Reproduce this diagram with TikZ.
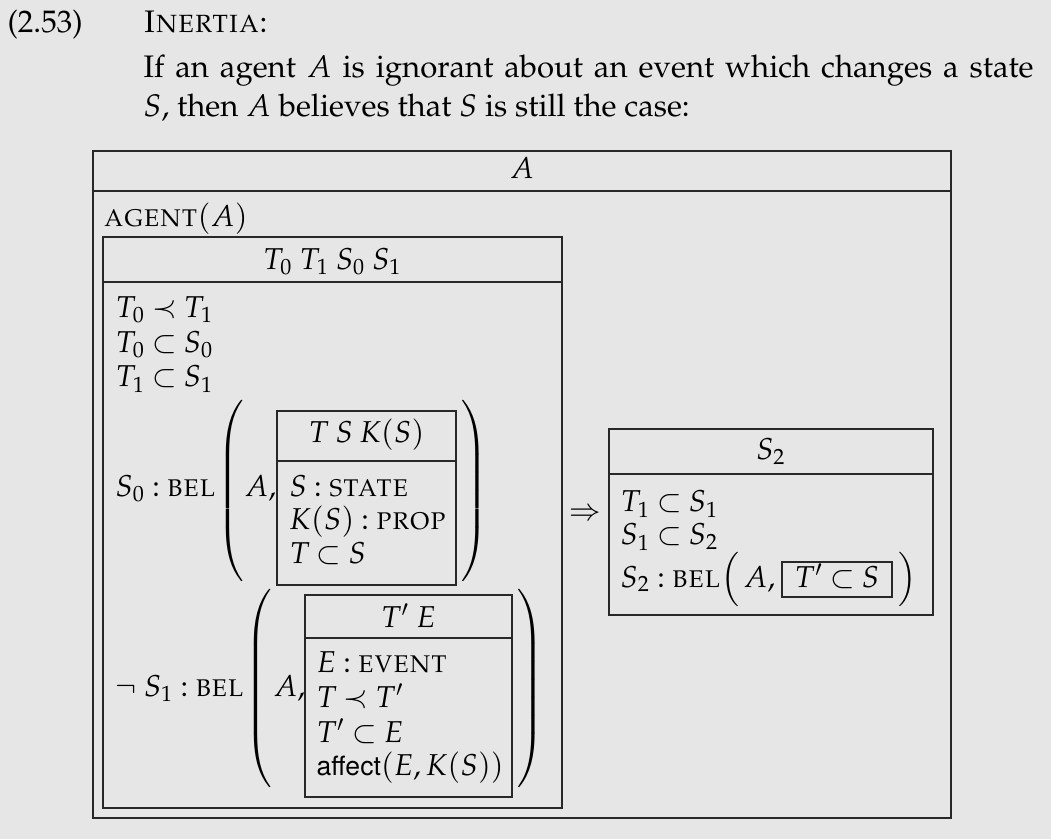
\documentclass[tikz,border=0pt,11pt]{standalone}
\usepackage{fontspec}
\newfontfamily\affectfont{TeX Gyre Heros}[Scale=0.88]
\usepackage[T1]{fontenc}
\usepackage{mathpazo}
\thickmuskip=4mu plus 2mu
\definecolor{bgc}{RGB}{230,230,230}
\definecolor{linec}{RGB}{40,40,40}
\newcommand\parL[1]{$\left(\vcenter{\hrule height #1 width 0pt}\right.$}
\newcommand\parR[1]{$\left.\vcenter{\hrule height #1 width 0pt}\right)$}
\newcommand\gap{\mskip 4mu}
\tikzset{
  box/.style={draw=linec, line width=0.45pt},
  txt/.style={inner sep=0pt, anchor=base west},
  hd/.style={inner sep=0pt, anchor=base},
  delim/.style={inner sep=0pt, anchor=center},
  headtxt/.style={txt, font=\fontsize{11.3}{13.6}\selectfont},
}
\begin{document}
\begin{tikzpicture}[x=0.363pt, y=-0.363pt]
\useasboundingbox (0,0) rectangle (1051,839);
\fill[bgc] (0,0) rectangle (1051,839);
% heading
\node[headtxt] (num) at (7,33) {(2.53)};
\node[headtxt] (ttl) at (143,33) {\textsc{Inertia}:};
\node[headtxt] (l1) at (143,78) {\hbox to 323.1pt{If an agent $A$ is ignorant about an event which changes a state}};
\node[headtxt] (l2) at (143,117) {$S$, then $A$ believes that $S$ is still the case:};
% outer box
\draw[box] (93,151) rectangle (951,818);
\draw[box] (93,191) -- (951,191);
\node[hd] (hA) at (522,179) {$A$};
\node[txt] (agent) at (103,227) {\textsc{agent}$(A)$};
% inner box
\draw[box] (103,237) rectangle (562,808);
\draw[box] (103,282) -- (562,282);
\node[hd] (hT) at (332.5,270) {$T_0\gap T_1\gap S_0\gap S_1$};
\node[txt] (c1) at (115,318) {$T_0 \prec T_1$};
\node[txt] (c2) at (115,353) {$T_0 \subset S_0$};
\node[txt] (c3) at (115,387) {$T_1 \subset S_1$};
% first belief
\node[txt] (b1) at (115,497) {$S_0 : \textsc{bel}$};
\node[delim] (p1l) at (232.5,491) {\parL{70pt}};
\node[txt] (a1) at (244,497) {$A,$};
\draw[box] (277,411) rectangle (456,585);
\draw[box] (277,461) -- (456,461);
\node[hd] (h1) at (366.5,443) {$T\gap S\gap K(S)$};
\node[txt] (d1) at (289,497) {$S : \textsc{state}$};
\node[txt] (d2) at (289,530) {$K(S) : \textsc{prop}$};
\node[txt] (d3) at (289,563) {$T \subset S$};
\node[delim] (p1r) at (473,491) {\parR{70pt}};
% second belief
\node[txt] (b2) at (115,696) {$\neg\gap S_1 : \textsc{bel}$};
\node[delim] (p2l) at (260,688.5) {\parL{77pt}};
\node[txt] (a2) at (273,696) {$A,$};
\draw[box] (305,595) rectangle (512,797);
\draw[box] (305,638) -- (512,638);
\node[hd] (h2) at (408.5,627) {$T'\gap E$};
\node[txt] (e1) at (316,672) {$E : \textsc{event}$};
\node[txt] (e2) at (316,707) {$T \prec T'$};
\node[txt] (e3) at (316,742) {$T' \subset E$};
\node[txt] (e4) at (316,775) {{\affectfont affect}$(E, K(S))$};
\node[delim] (p2r) at (529,688.5) {\parR{77pt}};
% implication
\node[delim] (impl) at (585,515) {$\Rightarrow$};
% S2 box
\draw[box] (609,429) rectangle (933,615);
\draw[box] (609,474) -- (933,474);
\node[hd] (h3) at (771,460) {$S_2$};
\node[txt] (f1) at (620,512) {$T_1 \subset S_1$};
\node[txt] (f2) at (620,545) {$S_1 \subset S_2$};
\node[txt] (f3) at (620,587) {$S_2 : \textsc{bel}$};
\node[delim] (p3l) at (732,579) {\parL{19pt}};
\node[txt] (a3) at (743,587) {$A,$};
\draw[box] (782,562) rectangle (892,597);
\node[hd] (g1) at (837,587) {$T' \subset S$};
\node[delim] (p3r) at (906,579) {\parR{19pt}};
\end{tikzpicture}
\end{document}
